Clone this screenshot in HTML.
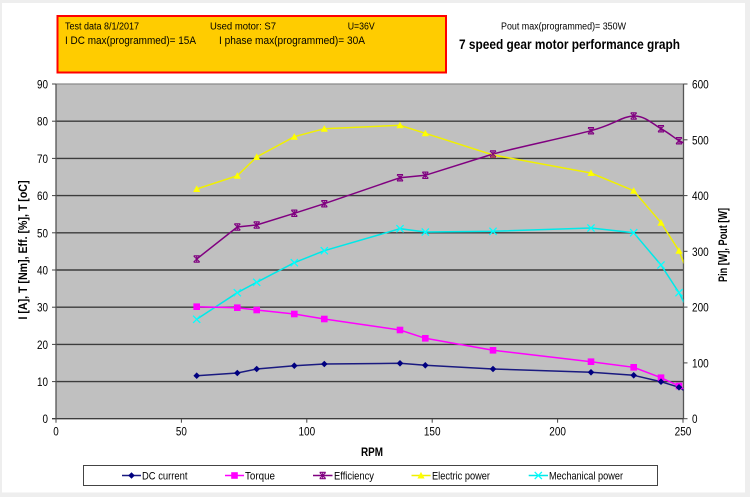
<!DOCTYPE html>
<html><head><meta charset="utf-8">
<style>
html,body{margin:0;padding:0;background:#eeeeee;}
svg{display:block;}
text{font-family:"Liberation Sans",Arial,sans-serif;fill:#000;}
</style></head>
<body>
<svg width="750" height="497" viewBox="0 0 750 497" xmlns="http://www.w3.org/2000/svg">
<defs>
<path id="dia" d="M0,-3.3 L3.3,0 L0,3.3 L-3.3,0Z" fill="#000080"/>
<rect id="sq" x="-3.3" y="-3.3" width="6.6" height="6.6" fill="#ff00ff"/>
<path id="ast" d="M-3,-3L3,3M-3,3L3,-3M-3,-3.2H3M-3,3.2H3M0,-3.5V3.5" stroke="#800080" stroke-width="1.1" fill="none"/>
<path id="tri" d="M0,-3.6 L3.6,3 L-3.6,3Z" fill="#ffff00"/>
<path id="xx" d="M-3.6,-3.6L3.6,3.6M-3.6,3.6L3.6,-3.6" stroke="#00ffff" stroke-width="1.3" fill="none"/>
</defs>

<rect x="2" y="3" width="743" height="489.5" fill="#ffffff"/>

<!-- header box -->
<rect x="57.5" y="16" width="388.5" height="56.5" fill="#ffcc00" stroke="#ff0000" stroke-width="2"/>
<text x="65" y="29.5" font-size="10" textLength="74" lengthAdjust="spacingAndGlyphs">Test data 8/1/2017</text>
<text x="210" y="29.5" font-size="10" textLength="66" lengthAdjust="spacingAndGlyphs">Used motor: S7</text>
<text x="347.7" y="29.5" font-size="10" textLength="27" lengthAdjust="spacingAndGlyphs">U=36V</text>
<text x="65" y="44" font-size="11" textLength="131" lengthAdjust="spacingAndGlyphs">I DC max(programmed)= 15A</text>
<text x="219" y="44" font-size="11" textLength="146" lengthAdjust="spacingAndGlyphs">I phase max(programmed)= 30A</text>

<!-- titles -->
<text x="501" y="29.5" font-size="10" textLength="125" lengthAdjust="spacingAndGlyphs">Pout max(programmed)= 350W</text>
<text x="459" y="49" font-size="13.5" font-weight="bold" textLength="221" lengthAdjust="spacingAndGlyphs">7 speed gear motor performance graph</text>

<!-- plot area -->
<rect x="56" y="84" width="627.5" height="334.7" fill="#c0c0c0"/>
<line x1="56" y1="84" x2="683.5" y2="84" stroke="#8a8a8a" stroke-width="1.2"/>
<g stroke="#3c3c3c" stroke-width="1.4">
<line x1="56" y1="121.2" x2="683.5" y2="121.2"/>
<line x1="56" y1="158.4" x2="683.5" y2="158.4"/>
<line x1="56" y1="195.6" x2="683.5" y2="195.6"/>
<line x1="56" y1="232.8" x2="683.5" y2="232.8"/>
<line x1="56" y1="270.0" x2="683.5" y2="270.0"/>
<line x1="56" y1="307.2" x2="683.5" y2="307.2"/>
<line x1="56" y1="344.4" x2="683.5" y2="344.4"/>
<line x1="56" y1="381.6" x2="683.5" y2="381.6"/>
<line x1="52" y1="418.7" x2="683.5" y2="418.7"/>
</g>
<!-- axes -->
<g stroke="#555" stroke-width="1.3">
<line x1="56" y1="84" x2="56" y2="418.7"/>
<line x1="683.5" y1="84" x2="683.5" y2="418.7"/>
</g>
<g stroke="#444" stroke-width="1">
<line x1="52" y1="84" x2="56" y2="84"/><line x1="52" y1="121.2" x2="56" y2="121.2"/><line x1="52" y1="158.4" x2="56" y2="158.4"/>
<line x1="52" y1="195.6" x2="56" y2="195.6"/><line x1="52" y1="232.8" x2="56" y2="232.8"/><line x1="52" y1="270" x2="56" y2="270"/>
<line x1="52" y1="307.2" x2="56" y2="307.2"/><line x1="52" y1="344.4" x2="56" y2="344.4"/><line x1="52" y1="381.6" x2="56" y2="381.6"/>
<line x1="683.5" y1="84" x2="687.5" y2="84"/><line x1="683.5" y1="139.8" x2="687.5" y2="139.8"/><line x1="683.5" y1="195.6" x2="687.5" y2="195.6"/>
<line x1="683.5" y1="251.3" x2="687.5" y2="251.3"/><line x1="683.5" y1="307.1" x2="687.5" y2="307.1"/><line x1="683.5" y1="362.9" x2="687.5" y2="362.9"/>
<line x1="683.5" y1="418.7" x2="687.5" y2="418.7"/>
<line x1="56" y1="418.7" x2="56" y2="422.7"/><line x1="181.4" y1="418.7" x2="181.4" y2="422.7"/><line x1="306.8" y1="418.7" x2="306.8" y2="422.7"/>
<line x1="432.2" y1="418.7" x2="432.2" y2="422.7"/><line x1="557.6" y1="418.7" x2="557.6" y2="422.7"/><line x1="683" y1="418.7" x2="683" y2="422.7"/>
</g>

<!-- left tick labels -->
<g font-size="12" text-anchor="end">
<text x="48" y="88.5" textLength="11" lengthAdjust="spacingAndGlyphs">90</text>
<text x="48" y="125.7" textLength="11" lengthAdjust="spacingAndGlyphs">80</text>
<text x="48" y="162.9" textLength="11" lengthAdjust="spacingAndGlyphs">70</text>
<text x="48" y="200.1" textLength="11" lengthAdjust="spacingAndGlyphs">60</text>
<text x="48" y="237.3" textLength="11" lengthAdjust="spacingAndGlyphs">50</text>
<text x="48" y="274.5" textLength="11" lengthAdjust="spacingAndGlyphs">40</text>
<text x="48" y="311.7" textLength="11" lengthAdjust="spacingAndGlyphs">30</text>
<text x="48" y="348.9" textLength="11" lengthAdjust="spacingAndGlyphs">20</text>
<text x="48" y="386.1" textLength="11" lengthAdjust="spacingAndGlyphs">10</text>
<text x="48" y="423.2" textLength="5.5" lengthAdjust="spacingAndGlyphs">0</text>
</g>
<!-- right tick labels -->
<g font-size="12">
<text x="692" y="88.5" textLength="16.7" lengthAdjust="spacingAndGlyphs">600</text>
<text x="692" y="144.3" textLength="16.7" lengthAdjust="spacingAndGlyphs">500</text>
<text x="692" y="200.1" textLength="16.7" lengthAdjust="spacingAndGlyphs">400</text>
<text x="692" y="255.8" textLength="16.7" lengthAdjust="spacingAndGlyphs">300</text>
<text x="692" y="311.6" textLength="16.7" lengthAdjust="spacingAndGlyphs">200</text>
<text x="692" y="367.4" textLength="16.7" lengthAdjust="spacingAndGlyphs">100</text>
<text x="692" y="423.2" textLength="5.5" lengthAdjust="spacingAndGlyphs">0</text>
</g>
<!-- x tick labels -->
<g font-size="12" text-anchor="middle">
<text x="56" y="435.5" textLength="5.5" lengthAdjust="spacingAndGlyphs">0</text>
<text x="181.4" y="435.5" textLength="11" lengthAdjust="spacingAndGlyphs">50</text>
<text x="306.8" y="435.5" textLength="16.7" lengthAdjust="spacingAndGlyphs">100</text>
<text x="432.2" y="435.5" textLength="16.7" lengthAdjust="spacingAndGlyphs">150</text>
<text x="557.6" y="435.5" textLength="16.7" lengthAdjust="spacingAndGlyphs">200</text>
<text x="683" y="435.5" textLength="16.7" lengthAdjust="spacingAndGlyphs">250</text>
</g>

<!-- axis titles -->
<text x="372" y="456" font-size="12" font-weight="bold" text-anchor="middle" textLength="22" lengthAdjust="spacingAndGlyphs">RPM</text>
<text transform="translate(27,250) rotate(-90)" font-size="11.5" font-weight="bold" text-anchor="middle" textLength="139" lengthAdjust="spacingAndGlyphs">I [A], T [Nm], Eff. [%], T [oC]</text>
<text transform="translate(727,245) rotate(-90)" font-size="11.5" font-weight="bold" text-anchor="middle" textLength="74" lengthAdjust="spacingAndGlyphs">Pin [W], Pout [W]</text>

<!-- series -->
<svg x="0" y="0" width="683.5" height="497" overflow="hidden">
<polyline fill="none" stroke="#f0f000" stroke-width="1.5" points="196.7,189 237.3,175.7 256.7,157 294.3,136.7 324.3,128.7 400,125.3 425.3,133.3 493,155 591,173 633.7,190.7 661,222.7 679,250.7 684,263.5"/>
<polyline fill="none" stroke="#00e8e8" stroke-width="1.5" points="196.7,319.3 237.3,292.7 256.7,282.3 294.3,262.7 324.3,250.7 400,228.7 425.3,232 493,231.3 591,228 633.7,232.7 661,265 679,292.7 684,302.5"/>
<polyline fill="none" stroke="#ff00ff" stroke-width="1.5" points="196.7,306.7 237.3,307.7 256.7,310 294.3,314 324.3,319 400,330 425.3,338.3 493,350.3 591,361.7 633.7,367.3 661,377.7 679,386 684,389"/>
<polyline fill="none" stroke="#1a1a80" stroke-width="1.5" points="196.7,375.7 237.3,373 256.7,369 294.3,365.7 324.3,364 400,363.3 425.3,365.3 493,369 591,372.3 633.7,375.3 661,381.7 679,387.3 684,390.5"/>
<path fill="none" stroke="#800080" stroke-width="1.5" d="M196.7,259 L237.3,227 L256.7,225 L294.3,213.3 L324.3,203.7 L400,177.7 L425.3,175.3 L493,154 C520.6,146.6 567.55,137 591,130.7 C614.5,124.4 622,116.3 633.7,116 C645.4,115.7 653.45,124.6 661,128.7 C668.55,132.8 675.25,138.5 679,140.7 L684,143"/>
</svg>

<!-- markers -->
<g>
<use href="#tri" x="196.7" y="189"/><use href="#tri" x="237.3" y="175.7"/><use href="#tri" x="256.7" y="157"/><use href="#tri" x="294.3" y="136.7"/><use href="#tri" x="324.3" y="128.7"/><use href="#tri" x="400" y="125.3"/><use href="#tri" x="425.3" y="133.3"/><use href="#tri" x="493" y="155"/><use href="#tri" x="591" y="173"/><use href="#tri" x="633.7" y="190.7"/><use href="#tri" x="661" y="222.7"/><use href="#tri" x="679" y="250.7"/>
<use href="#xx" x="196.7" y="319.3"/><use href="#xx" x="237.3" y="292.7"/><use href="#xx" x="256.7" y="282.3"/><use href="#xx" x="294.3" y="262.7"/><use href="#xx" x="324.3" y="250.7"/><use href="#xx" x="400" y="228.7"/><use href="#xx" x="425.3" y="232"/><use href="#xx" x="493" y="231.3"/><use href="#xx" x="591" y="228"/><use href="#xx" x="633.7" y="232.7"/><use href="#xx" x="661" y="265"/><use href="#xx" x="679" y="292.7"/>
<use href="#sq" x="196.7" y="306.7"/><use href="#sq" x="237.3" y="307.7"/><use href="#sq" x="256.7" y="310"/><use href="#sq" x="294.3" y="314"/><use href="#sq" x="324.3" y="319"/><use href="#sq" x="400" y="330"/><use href="#sq" x="425.3" y="338.3"/><use href="#sq" x="493" y="350.3"/><use href="#sq" x="591" y="361.7"/><use href="#sq" x="633.7" y="367.3"/><use href="#sq" x="661" y="377.7"/><use href="#sq" x="679" y="386"/>
<use href="#dia" x="196.7" y="375.7"/><use href="#dia" x="237.3" y="373"/><use href="#dia" x="256.7" y="369"/><use href="#dia" x="294.3" y="365.7"/><use href="#dia" x="324.3" y="364"/><use href="#dia" x="400" y="363.3"/><use href="#dia" x="425.3" y="365.3"/><use href="#dia" x="493" y="369"/><use href="#dia" x="591" y="372.3"/><use href="#dia" x="633.7" y="375.3"/><use href="#dia" x="661" y="381.7"/><use href="#dia" x="679" y="387.3"/>
<use href="#ast" x="196.7" y="259"/><use href="#ast" x="237.3" y="227"/><use href="#ast" x="256.7" y="225"/><use href="#ast" x="294.3" y="213.3"/><use href="#ast" x="324.3" y="203.7"/><use href="#ast" x="400" y="177.7"/><use href="#ast" x="425.3" y="175.3"/><use href="#ast" x="493" y="154"/><use href="#ast" x="591" y="130.7"/><use href="#ast" x="633.7" y="116"/><use href="#ast" x="661" y="128.7"/><use href="#ast" x="679" y="140.7"/>
</g>

<!-- legend -->
<rect x="83.5" y="465.5" width="574" height="20" fill="#ffffff" stroke="#444" stroke-width="1"/>
<g stroke-width="1.5">
<line x1="122" y1="475.5" x2="141" y2="475.5" stroke="#1a1a80"/>
<line x1="225" y1="475.5" x2="244" y2="475.5" stroke="#ff00ff"/>
<line x1="313" y1="475.5" x2="332.5" y2="475.5" stroke="#800080"/>
<line x1="411.5" y1="475.5" x2="430.6" y2="475.5" stroke="#f0f000"/>
<line x1="528.7" y1="475.5" x2="548" y2="475.5" stroke="#00e8e8"/>
</g>
<use href="#dia" x="131.5" y="475.5"/>
<use href="#sq" x="234.5" y="475.5"/>
<use href="#ast" x="322.7" y="475.5"/>
<use href="#tri" x="421" y="475.5"/>
<use href="#xx" x="538.3" y="475.5"/>
<g font-size="11">
<text x="142" y="479.5" textLength="45.5" lengthAdjust="spacingAndGlyphs">DC current</text>
<text x="245" y="479.5" textLength="30" lengthAdjust="spacingAndGlyphs">Torque</text>
<text x="334" y="479.5" textLength="40" lengthAdjust="spacingAndGlyphs">Efficiency</text>
<text x="432" y="479.5" textLength="58" lengthAdjust="spacingAndGlyphs">Electric power</text>
<text x="549" y="479.5" textLength="74" lengthAdjust="spacingAndGlyphs">Mechanical power</text>
</g>
</svg>
</body></html>
